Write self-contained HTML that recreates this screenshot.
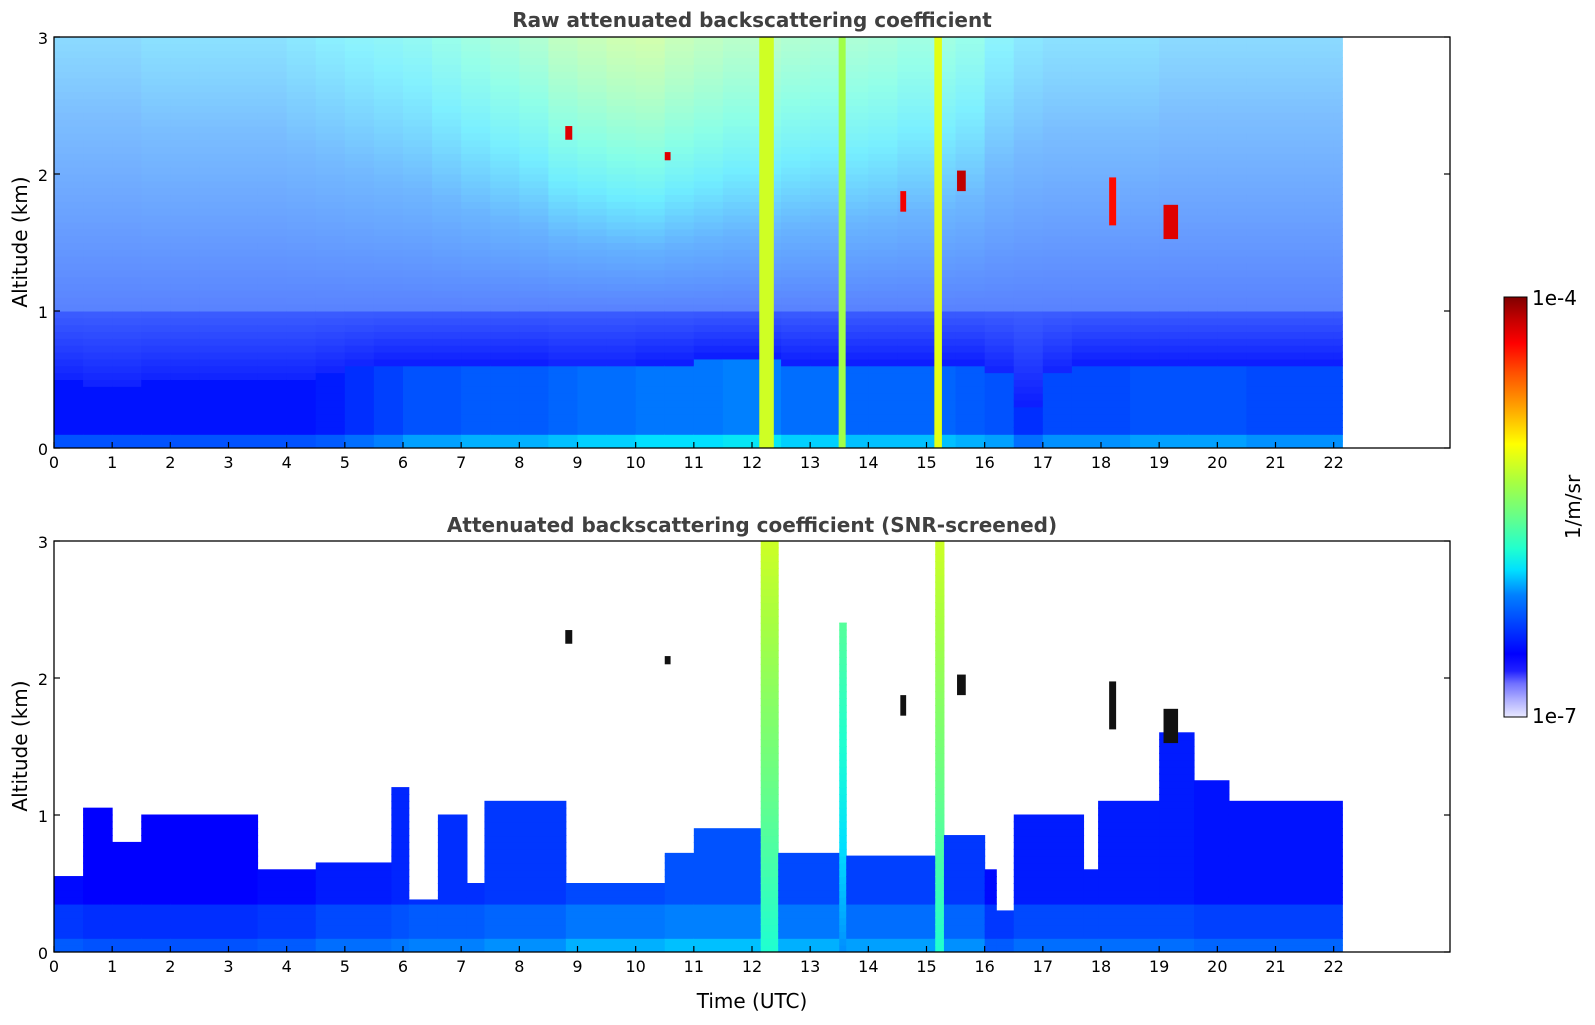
<!DOCTYPE html>
<html><head><meta charset="utf-8">
<style>
body{margin:0;background:#fff;width:1595px;height:1020px;overflow:hidden;font-family:"Liberation Sans",sans-serif}
svg text{font-family:"DejaVu Sans","Liberation Sans",sans-serif}
</style></head>
<body>
<svg id="chart" width="1595" height="1020" xmlns="http://www.w3.org/2000/svg">
<defs>
<linearGradient id="cbgrad" x1="0" y1="1" x2="0" y2="0">
<stop offset="0" stop-color="#e8e8ff"/><stop offset="0.04" stop-color="#b0b0ff"/><stop offset="0.08" stop-color="#7070ff"/><stop offset="0.11" stop-color="#2020ff"/><stop offset="0.15" stop-color="#0000ff"/><stop offset="0.22" stop-color="#0040ff"/><stop offset="0.29" stop-color="#0080ff"/><stop offset="0.35" stop-color="#00e0ff"/><stop offset="0.40" stop-color="#20ffd0"/><stop offset="0.47" stop-color="#60ff90"/><stop offset="0.56" stop-color="#a8ff40"/><stop offset="0.65" stop-color="#ffff00"/><stop offset="0.74" stop-color="#ffa000"/><stop offset="0.82" stop-color="#ff5000"/><stop offset="0.89" stop-color="#ff0000"/><stop offset="0.95" stop-color="#c00000"/><stop offset="1" stop-color="#800000"/>
</linearGradient>
<clipPath id="clipTop"><rect x="54" y="37" width="1396" height="411"/></clipPath>
<clipPath id="clipBot"><rect x="54" y="541" width="1396" height="411"/></clipPath>
</defs>
<text x="752" y="27" font-size="20" font-weight="bold" fill="#404040" text-anchor="middle">Raw attenuated backscattering coefficient</text>
<text x="752" y="532" font-size="20" font-weight="bold" fill="#404040" text-anchor="middle">Attenuated backscattering coefficient (SNR-screened)</text>
<g id="topPlot" clip-path="url(#clipTop)"></g>
<g id="botPlot" clip-path="url(#clipBot)"></g>
<g id="axes"></g>
<rect x="1504" y="297" width="23" height="420" fill="url(#cbgrad)" stroke="#000" stroke-width="1"/>
<text x="1532" y="305" font-size="20">1e-4</text>
<text x="1532" y="723" font-size="20">1e-7</text>
<text transform="translate(1580,507) rotate(-90)" font-size="20" text-anchor="middle">1/m/sr</text>
<text x="752" y="1008" font-size="20" text-anchor="middle">Time (UTC)</text>
<text transform="translate(27,242) rotate(-90)" font-size="20" text-anchor="middle">Altitude (km)</text>
<text transform="translate(27,746) rotate(-90)" font-size="20" text-anchor="middle">Altitude (km)</text>
</svg>
<script>
// ---- data ----
const xTicks = [0,1,2,3,4,5,6,7,8,9,10,11,12,13,14,15,16,17,18,19,20,21,22];
const yTicks = [0,1,2,3];
const dataEnd = 22.15;
// raw columns every 0.5 h
const colTimes = [0,0.5,1,1.5,2,2.5,3,3.5,4,4.5,5,5.5,6,6.5,7,7.5,8,8.5,9,9.5,10,10.5,11,11.5,12,12.5,13,13.5,14,14.5,15,15.5,16,16.5,17,17.5,18,18.5,19,19.5,20,20.5,21,21.5,22];
const rawBL  = [0.45,0.4,0.4,0.45,0.45,0.45,0.45,0.45,0.45,0.5,0.55,0.6,0.6,0.6,0.6,0.6,0.6,0.55,0.55,0.55,0.6,0.6,0.65,0.65,0.65,0.6,0.6,0.6,0.6,0.6,0.6,0.6,0.5,0.3,0.5,0.6,0.6,0.6,0.6,0.6,0.6,0.6,0.6,0.6,0.6];
const rawLow = [0.17,0.17,0.17,0.17,0.17,0.17,0.17,0.17,0.17,0.18,0.2,0.22,0.24,0.24,0.25,0.25,0.25,0.26,0.27,0.27,0.28,0.28,0.28,0.29,0.29,0.27,0.27,0.26,0.26,0.26,0.26,0.25,0.24,0.2,0.23,0.23,0.23,0.24,0.24,0.24,0.24,0.23,0.23,0.23,0.23];
const rawTop = [0.32,0.32,0.32,0.33,0.33,0.33,0.33,0.33,0.34,0.35,0.36,0.37,0.38,0.4,0.42,0.44,0.46,0.5,0.52,0.54,0.55,0.52,0.5,0.48,0.48,0.46,0.45,0.45,0.44,0.42,0.42,0.4,0.36,0.34,0.33,0.33,0.33,0.33,0.32,0.32,0.32,0.32,0.32,0.32,0.32];
// screened layer segments: start, end, top (km), layer value
const segStart = [0,0.5,1.0,1.5,2.0,3.5,4.5,5.8,6.1,6.6,7.1,7.4,8.8,10.5,11,12.15,12.45,13.5,13.62,15.15,15.3,16,16.2,16.5,17.7,17.95,19,19.6,20.2];
const segEnd   = [0.5,1.0,1.5,2.0,3.5,4.5,5.8,6.1,6.6,7.1,7.4,8.8,10.5,11,12.15,12.45,13.5,13.62,15.15,15.3,16,16.2,16.5,17.7,17.95,19,19.6,20.2,22.15];
const segTop   = [0.55,1.05,0.8,1.0,1.0,0.6,0.65,1.2,0.38,1.0,0.5,1.1,0.5,0.72,0.9,3.0,0.72,2.4,0.7,3.0,0.85,0.6,0.3,1.0,0.6,1.1,1.6,1.25,1.1];
const segLow   = [0.19,0.18,0.18,0.18,0.18,0.19,0.21,0.22,0.23,0.23,0.23,0.24,0.26,0.27,0.27,0.6,0.26,0.5,0.25,0.6,0.24,0.19,0.19,0.21,0.21,0.21,0.21,0.2,0.2];
// plumes: time, width(h), value
const plumeT = [12.25,13.55,15.2];
const plumeW = [0.25,0.12,0.13];
const plumeV = [0.6,0.55,0.62];
// elevated clouds: time, altitude(km), width(h), height(km), value
const cloudT = [8.85,10.55,14.6,15.6,18.2,19.2];
const cloudA = [2.3,2.13,1.8,1.95,1.8,1.65];
const cloudW = [0.12,0.1,0.1,0.15,0.12,0.25];
const cloudH = [0.1,0.06,0.15,0.15,0.35,0.25];
const cloudV = [0.92,0.92,0.9,0.95,0.88,0.92];

// ---- scales ----
const X0=54, X1=1450;
const xs = t => X0 + t*(X1-X0)/24;
const yTop = a => 448 - a*411/3;
const yBot = a => 952 - a*411/3;
const stops=[[0,[232,232,255]],[0.04,[176,176,255]],[0.08,[112,112,255]],[0.11,[32,32,255]],[0.15,[0,0,255]],[0.22,[0,64,255]],[0.29,[0,128,255]],[0.35,[0,224,255]],[0.40,[32,255,208]],[0.47,[96,255,144]],[0.56,[168,255,64]],[0.65,[255,255,0]],[0.74,[255,160,0]],[0.82,[255,80,0]],[0.89,[255,0,0]],[0.95,[192,0,0]],[1,[128,0,0]]];
function cmap(v,white){v=Math.max(0,Math.min(1,v));let i=0;while(i<stops.length-2&&v>stops[i+1][0])i++;const[a,ca]=stops[i],[b,cb]=stops[i+1];const f=(v-a)/(b-a);white=white||0;return 'rgb('+[0,1,2].map(k=>Math.round((ca[k]+(cb[k]-ca[k])*f)*(1-white)+255*white)).join(',')+')';}
const NS='http://www.w3.org/2000/svg';
function rect(g,x,y,w,h,fill){const r=document.createElementNS(NS,'rect');r.setAttribute('x',x);r.setAttribute('y',y);r.setAttribute('width',w);r.setAttribute('height',h);r.setAttribute('fill',fill);g.appendChild(r);return r;}

// ---- raw heatmap ----
const gT=document.getElementById('topPlot');
const dA=0.05;
colTimes.forEach((t,i)=>{
  const t1=Math.min(t+0.5,dataEnd);
  const x=xs(t), w=xs(t1)-x+0.5;
  for(let a=0;a<3;a+=dA){
    let v,wh;
    const bl=rawBL[i];
    if(a<0.08){v=rawLow[i]+0.07;wh=0;}
    else if(a<bl){v=rawLow[i];wh=0;}
    else if(a<1.0){const f=(a-bl)/(1.0-bl+0.01);v=0.17+0.03*f;wh=0.05+0.2*f;}
    else {const f=(a-1)/2;v=0.22+(rawTop[i]-0.22)*f;wh=0.35+0.2*f;}
    const r=rect(gT,x,yTop(a+dA)-0.5,w,yTop(a)-yTop(a+dA)+1,cmap(v,wh));
    
    
  }
});
plumeT.forEach((t,i)=>{
  const r=rect(gT,xs(t-plumeW[i]/2),yTop(3),xs(plumeW[i])-X0,yTop(0)-yTop(3),cmap(plumeV[i],0));
  
  
});
cloudT.forEach((t,i)=>{
  const r=rect(gT,xs(t-cloudW[i]/2),yTop(cloudA[i]+cloudH[i]/2),xs(cloudW[i])-X0,yTop(0)-yTop(cloudH[i]),cmap(cloudV[i],0));
  
  
});

// ---- screened heatmap ----
const gB=document.getElementById('botPlot');
segStart.forEach((s,i)=>{
  const x=xs(s), w=xs(segEnd[i])-x+0.5, top=segTop[i];
  for(let a=0;a<top;a+=dA){
    const aa=Math.min(a+dA,top);
    let v;
    if(segLow[i]>0.4){v=segLow[i]-0.2*(1-a/3);}
    else if(a<0.1)v=segLow[i]+0.06;
    else if(a<0.35)v=segLow[i]+0.02;
    else v=segLow[i]-0.03;
    const r=rect(gB,x,yBot(aa)-0.5,w,yBot(a)-yBot(aa)+1,cmap(v,0));
    
    
  }
});
cloudT.forEach((t,i)=>{
  const r=rect(gB,xs(t-cloudW[i]/2),yBot(cloudA[i]+cloudH[i]/2),xs(cloudW[i])-X0,yBot(0)-yBot(cloudH[i]),'#111');
  
  
});

// ---- axes ----
const gA=document.getElementById('axes');
function line(x1,y1,x2,y2){const l=document.createElementNS(NS,'line');l.setAttribute('x1',x1);l.setAttribute('y1',y1);l.setAttribute('x2',x2);l.setAttribute('y2',y2);l.setAttribute('stroke','#000');l.setAttribute('stroke-width','1.2');gA.appendChild(l);return l;}
function txt(x,y,s,anchor,name){const t=document.createElementNS(NS,'text');t.setAttribute('x',x);t.setAttribute('y',y);t.setAttribute('font-size','16');t.setAttribute('text-anchor',anchor);t.textContent=s;


gA.appendChild(t);}
[[37,448,yTop,'top'],[541,952,yBot,'bottom']].forEach(([y0,y1,ys,nm])=>{
  const fr=document.createElementNS(NS,'rect');fr.setAttribute('x',X0);fr.setAttribute('y',y0);fr.setAttribute('width',X1-X0);fr.setAttribute('height',y1-y0);fr.setAttribute('fill','none');fr.setAttribute('stroke','#000');fr.setAttribute('stroke-width','1.3');
  
  
  gA.appendChild(fr);
  xTicks.forEach(t=>{line(xs(t),y1,xs(t),y1-6);txt(xs(t),y1+20,String(t),'middle',nm+'-x-tick-label');});
  yTicks.forEach(a=>{line(X0,ys(a),X0+6,ys(a));line(X1,ys(a),X1-6,ys(a));txt(X0-6,ys(a)+7,String(a),'end',nm+'-y-tick-label');});
});
</script>
</body></html>
